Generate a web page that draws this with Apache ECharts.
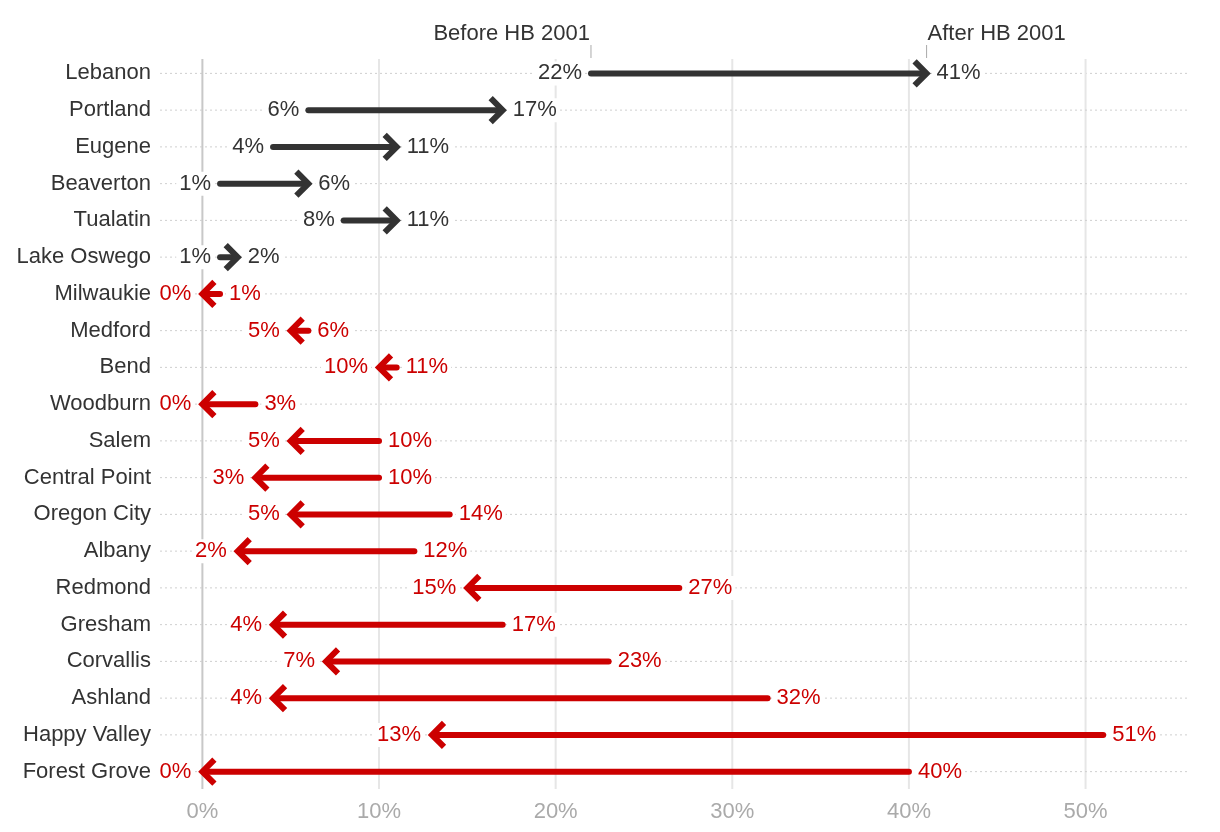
<!DOCTYPE html>
<html>
<head>
<meta charset="utf-8">
<script src="https://cdn.jsdelivr.net/npm/echarts@6/dist/echarts.min.js"></script>
<style>
html,body{margin:0;padding:0;background:#fff;}
#chart{width:1220px;height:832px;}
</style>
</head>
<body>
<div id="chart"></div>
<script>
const cities = ['Lebanon','Portland','Eugene','Beaverton','Tualatin','Lake Oswego','Milwaukie','Medford','Bend','Woodburn','Salem','Central Point','Oregon City','Albany','Redmond','Gresham','Corvallis','Ashland','Happy Valley','Forest Grove'];
const beforeVals = [22, 6, 4, 1, 8, 1, 1, 6, 11, 3, 10, 10, 14, 12, 27, 17, 23, 32, 51, 40];
const afterVals  = [41, 17, 11, 6, 11, 2, 0, 5, 10, 0, 5, 3, 5, 2, 15, 4, 7, 4, 13, 0];
const xTicks = [0, 10, 20, 30, 40, 50];
const headerLabels = ['Before HB 2001', 'After HB 2001'];

const FONT = '"Liberation Sans", Arial, sans-serif';
const DARK = '#333333';
const RED = '#cc0000';

const chart = echarts.init(document.getElementById('chart'), null, {renderer: 'canvas'});

function renderItem(params, api) {
  const i = api.value(0);
  const b = api.value(1);
  const a = api.value(2);
  const cs = params.coordSys;
  const pb = api.coord([b, i]);
  const pa = api.coord([a, i]);
  const y = pb[1];
  const xb = pb[0], xa = pa[0];
  const up = a >= b;
  const col = up ? DARK : RED;
  const dir = up ? 1 : -1;
  const children = [];

  // dotted row guide
  children.push({
    type: 'line',
    shape: {x1: cs.x, y1: y, x2: cs.x + cs.width, y2: y},
    style: {stroke: '#cfcfcf', lineWidth: 1, lineDash: [2, 3]}
  });

  if (i === 0) {
    xTicks.forEach(function (t) {
      const x = api.coord([t, 0])[0];
      children.push({
        type: 'line',
        shape: {x1: x, y1: cs.y + 4, x2: x, y2: cs.y + cs.height - 1},
        style: {stroke: t === 0 ? '#c8c8c8' : '#e6e6e6', lineWidth: 2}
      });
    });
    // header ticks and labels
    [[xb, headerLabels[0], 'right'], [xa, headerLabels[1], 'left']].forEach(function (h) {
      children.push({
        type: 'line',
        shape: {x1: h[0], y1: cs.y - 10, x2: h[0], y2: cs.y + 3},
        style: {stroke: '#aaaaaa', lineWidth: 1}
      });
      children.push({
        type: 'text',
        style: {
          x: h[2] === 'right' ? h[0] - 1 : h[0] + 1,
          y: cs.y - 21,
          text: h[1],
          align: h[2],
          verticalAlign: 'middle',
          fill: DARK,
          font: '22px ' + FONT
        }
      });
    });
  }

  // shaft
  children.push({
    type: 'line',
    shape: {x1: xb, y1: y, x2: xa - dir * 3, y2: y},
    style: {stroke: col, lineWidth: 6, lineCap: 'round'}
  });
  // arrow head
  children.push({
    type: 'polyline',
    shape: {points: [[xa - dir * 12, y - 12], [xa, y], [xa - dir * 12, y + 12]]},
    style: {stroke: col, lineWidth: 6, fill: null, lineJoin: 'miter', lineCap: 'butt'}
  });

  // value labels
  const lo = Math.min(xb, xa), hi = Math.max(xb, xa);
  const loVal = Math.min(a, b), hiVal = Math.max(a, b);
  children.push({
    type: 'text',
    style: {
      x: lo - (up ? 6 : 8), y: y,
      text: Math.round(loVal) + '%',
      align: 'right', verticalAlign: 'middle',
      fill: col, font: '22px ' + FONT,
      backgroundColor: '#fff', padding: [1, 3]
    }
  });
  children.push({
    type: 'text',
    style: {
      x: hi + (up ? 7 : 6), y: y,
      text: Math.round(hiVal) + '%',
      align: 'left', verticalAlign: 'middle',
      fill: col, font: '22px ' + FONT,
      backgroundColor: '#fff', padding: [1, 3]
    }
  });

  return {type: 'group', children: children};
}

const option = {
  backgroundColor: '#fff',
  animation: false,
  grid: {left: 160, right: 32, top: 55, bottom: 42, containLabel: false},
  xAxis: {
    type: 'value',
    min: -2.4,
    max: 55.8,
    axisLine: {show: false},
    axisTick: {show: false},
    splitLine: {show: false},
    axisLabel: {
      customValues: xTicks,
      formatter: function (v) { return v + '%'; },
      color: '#aaaaaa',
      fontSize: 22,
      fontFamily: FONT,
      margin: 11
    }
  },
  yAxis: {
    type: 'category',
    inverse: true,
    data: cities,
    axisLine: {show: false},
    axisTick: {show: false},
    splitLine: {show: false},
    axisLabel: {
      color: DARK,
      fontSize: 22,
      fontFamily: FONT,
      margin: 9
    }
  },
  series: [{
    type: 'custom',
    renderItem: renderItem,
    encode: {x: [1, 2], y: 0},
    data: cities.map(function (c, i) { return [i, beforeVals[i], afterVals[i]]; }),
    clip: false
  }]
};
chart.setOption(option);
</script>
</body>
</html>
